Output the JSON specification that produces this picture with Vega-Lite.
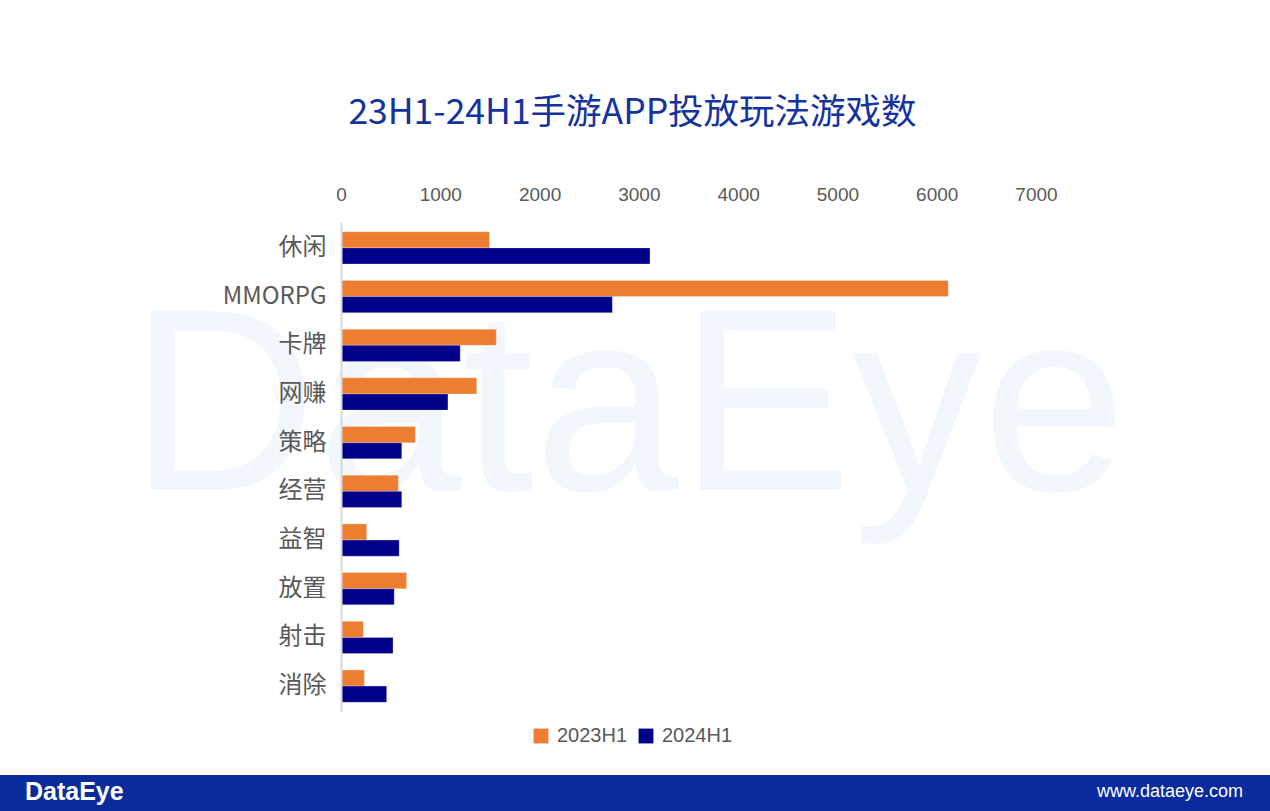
{
  "$schema": "https://vega.github.io/schema/vega-lite/v6.json",
  "autosize": {"type": "none"},
  "width": 695,
  "height": 490,
  "padding": {"left": 341, "top": 222, "right": 234, "bottom": 99},
  "background": "white",
  "config": {"view": {"stroke": null}},
  "title": {
    "text": "23H1-24H1手游APP投放玩法游戏数",
    "font": "Noto Sans CJK SC",
    "fontSize": 35.5,
    "fontWeight": "normal",
    "color": "#1432a0",
    "anchor": "middle",
    "dx": -56,
    "offset": 54
  },
  "layer": [
    {
      "data": {"values": [{"label": "DataEye"}]},
      "mark": {"type": "text", "color": "#f1f7fc", "font": "Liberation Sans", "fontSize": 260, "align": "left", "baseline": "alphabetic", "clip": false},
      "encoding": {
        "text": {"field": "label"},
        "x": {"datum": -2130},
        "y": {"datum": 0.453, "type": "quantitative", "scale": {"domain": [0, 1]}, "axis": null}
      }
    },
    {
      "data": {
        "values": [
          {"cat": "休闲", "period": "2023H1", "value": 1495},
          {"cat": "休闲", "period": "2024H1", "value": 3112},
          {"cat": "MMORPG", "period": "2023H1", "value": 6116},
          {"cat": "MMORPG", "period": "2024H1", "value": 2733},
          {"cat": "卡牌", "period": "2023H1", "value": 1564},
          {"cat": "卡牌", "period": "2024H1", "value": 1201},
          {"cat": "网赚", "period": "2023H1", "value": 1367},
          {"cat": "网赚", "period": "2024H1", "value": 1077},
          {"cat": "策略", "period": "2023H1", "value": 749},
          {"cat": "策略", "period": "2024H1", "value": 612},
          {"cat": "经营", "period": "2023H1", "value": 577},
          {"cat": "经营", "period": "2024H1", "value": 612},
          {"cat": "益智", "period": "2023H1", "value": 259},
          {"cat": "益智", "period": "2024H1", "value": 586},
          {"cat": "放置", "period": "2023H1", "value": 661},
          {"cat": "放置", "period": "2024H1", "value": 536},
          {"cat": "射击", "period": "2023H1", "value": 225},
          {"cat": "射击", "period": "2024H1", "value": 524},
          {"cat": "消除", "period": "2023H1", "value": 235},
          {"cat": "消除", "period": "2024H1", "value": 460}
        ]
      },
      "mark": {"type": "bar", "stroke": "#ffffff", "strokeOpacity": 0.35, "strokeWidth": 0.8},
      "encoding": {
        "y": {
          "field": "cat",
          "type": "nominal",
          "sort": null,
          "scale": {"paddingInner": 0.337, "paddingOuter": 0.2},
          "axis": {
            "title": null,
            "ticks": false,
            "zindex": 1,
            "domainColor": "#d9d9d9",
            "domainWidth": 2,
            "labelFont": "Noto Sans CJK SC",
            "labelFontSize": 24,
            "labelColor": "#595959",
            "labelPadding": 15
          }
        },
        "yOffset": {"field": "period", "type": "nominal", "scale": {"paddingInner": 0, "paddingOuter": 0}},
        "x": {
          "field": "value",
          "type": "quantitative",
          "scale": {"domain": [0, 7000], "nice": false},
          "axis": {
            "orient": "top",
            "title": null,
            "grid": false,
            "ticks": false,
            "domain": false,
            "values": [0, 1000, 2000, 3000, 4000, 5000, 6000, 7000],
            "format": "d",
            "labelFont": "Liberation Sans",
            "labelFontSize": 19,
            "labelColor": "#595959",
            "labelPadding": 18,
            "labelFlush": false
          }
        },
        "color": {
          "field": "period",
          "type": "nominal",
          "scale": {"domain": ["2023H1", "2024H1"], "range": ["#ED7D31", "#00008B"]},
          "legend": {
            "title": null,
            "orient": "none",
            "legendX": 190,
            "legendY": 504,
            "direction": "horizontal",
            "symbolType": "square",
            "symbolSize": 220,
            "symbolStrokeWidth": 0,
            "labelFont": "Liberation Sans",
            "labelFontSize": 20,
            "labelColor": "#595959",
            "columnPadding": 8,
            "labelOffset": 6
          }
        }
      }
    },
    {
      "data": {"values": [{"item": "footer"}]},
      "mark": {"type": "rect", "color": "#0a2b9c", "clip": false},
      "encoding": {
        "x": {"datum": -3600},
        "x2": {"datum": 9600},
        "y": {"datum": -0.1286, "type": "quantitative", "scale": {"domain": [0, 1]}, "axis": null},
        "y2": {"datum": -0.3}
      }
    },
    {
      "data": {"values": [{"label": "DataEye"}]},
      "mark": {"type": "text", "color": "white", "font": "Liberation Sans", "fontWeight": "bold", "fontSize": 25, "align": "left", "baseline": "middle", "clip": false},
      "encoding": {
        "text": {"field": "label"},
        "x": {"datum": -3183},
        "y": {"datum": -0.164, "type": "quantitative", "scale": {"domain": [0, 1]}, "axis": null}
      }
    },
    {
      "data": {"values": [{"label": "www.dataeye.com"}]},
      "mark": {"type": "text", "color": "white", "font": "Liberation Sans", "fontSize": 18, "align": "right", "baseline": "middle", "clip": false},
      "encoding": {
        "text": {"field": "label"},
        "x": {"datum": 9085},
        "y": {"datum": -0.164, "type": "quantitative", "scale": {"domain": [0, 1]}, "axis": null}
      }
    }
  ],
  "resolve": {"scale": {"y": "independent"}}
}
